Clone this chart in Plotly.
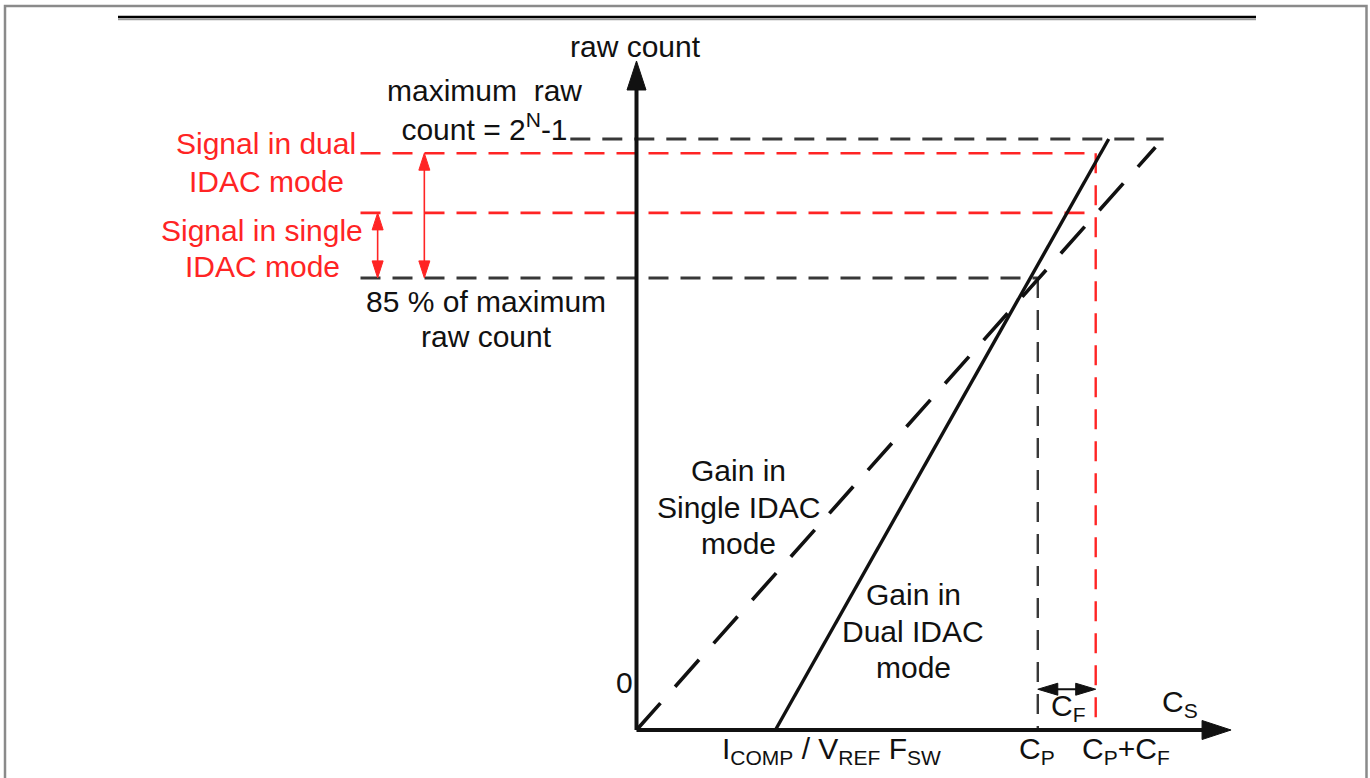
import plotly.graph_objects as go

# ---------------- data (conceptual diagram units: max raw count line = 1.0) -------------
# raw-count levels
y_max = 1.0          # maximum raw count = 2^N - 1
y_dual = 0.976       # signal level reached in dual IDAC mode
y_single = 0.875     # signal level reached in single IDAC mode
y_85 = 0.765         # 85 % of maximum raw count
# C_S positions
x_icomp = 0.235      # I_COMP / (V_REF F_SW)
x_cp = 0.679         # C_P
x_cpcf = 0.777       # C_P + C_F
# gain lines
single_gain_x = [0.0, 0.878]
single_gain_y = [0.0, 0.986]
dual_gain_x = [x_icomp, 0.799]
dual_gain_y = [0.0, 1.0]
# axis extents
x_axis_end = 1.006
y_axis_end = 1.132
# guide-line left ends
x_guide_left = -0.467
x_max_left = -0.112
x_max_right = 0.892
# signal double-arrow x positions
x_arrow_single = -0.438
x_arrow_dual = -0.359
y_cf_arrow = 0.069

# ---------------- layout helpers (pixel geometry of the canvas) -------------
W, H = 1370, 778
S = 591.0            # pixels per diagram unit
OX, OY = 636.5, 730.0  # pixel position of origin
X0, X1 = -OX / S, (W - OX) / S
Y0, Y1 = (OY - H) / S, OY / S


def d(px):
    return px / S


def X(px):
    return (px - OX) / S


def Y(py):
    return (OY - py) / S


BLACK = "#111111"
DGREY = "#383838"
RED = "#ff2424"
FONT = "Liberation Sans, Arial, sans-serif"
FS = 30

fig = go.Figure()


def line(xs, ys, color, width, dash="solid"):
    fig.add_trace(go.Scatter(x=xs, y=ys, mode="lines",
                             line=dict(color=color, width=width, dash=dash),
                             hoverinfo="skip", showlegend=False))


def head(tx, ty, direction, length, half, color):
    L, Hh = d(length), d(half)
    if direction == "up":
        xs = [tx, tx - Hh, tx + Hh, tx]; ys = [ty, ty - L, ty - L, ty]
    elif direction == "down":
        xs = [tx, tx - Hh, tx + Hh, tx]; ys = [ty, ty + L, ty + L, ty]
    elif direction == "right":
        xs = [tx, tx - L, tx - L, tx]; ys = [ty, ty + Hh, ty - Hh, ty]
    else:
        xs = [tx, tx + L, tx + L, tx]; ys = [ty, ty + Hh, ty - Hh, ty]
    fig.add_trace(go.Scatter(x=xs, y=ys, mode="lines", fill="toself",
                             fillcolor=color, line=dict(color=color, width=1),
                             hoverinfo="skip", showlegend=False))


DASH = "20px,12px"

# horizontal guide lines
line([x_max_left, x_max_right], [y_max, y_max], DGREY, 3, DASH)
line([x_guide_left, x_cpcf], [y_dual, y_dual], RED, 2.6, DASH)
line([x_guide_left, x_cpcf], [y_single, y_single], RED, 2.6, DASH)
line([x_guide_left, x_cp], [y_85, y_85], DGREY, 3, DASH)
# vertical guide lines
line([x_cp, x_cp], [y_85, 0], DGREY, 2.4, DASH)
line([x_cpcf, x_cpcf], [y_dual, 0], RED, 2.4, DASH)

# gain lines
line(single_gain_x, single_gain_y, BLACK, 3.6, "36px,22px")
line(dual_gain_x, dual_gain_y, BLACK, 3.4)

# axes
line([0, 0], [0, y_axis_end - d(26)], BLACK, 4)
line([0, x_axis_end - d(26)], [0, 0], BLACK, 4)
head(0, y_axis_end, "up", 29, 9.5, BLACK)
head(x_axis_end, 0, "right", 29, 9.5, BLACK)

# red signal double arrows
for xa, ytop in [(x_arrow_single, y_single), (x_arrow_dual, y_dual)]:
    line([xa, xa], [ytop - d(10), y_85 + d(10)], RED, 1.6)
    head(xa, ytop, "up", 17, 5.5, RED)
    head(xa, y_85, "down", 17, 5.5, RED)

# C_F double arrow
line([x_cp + d(10), x_cpcf - d(10)], [y_cf_arrow, y_cf_arrow], BLACK, 2)
head(x_cp, y_cf_arrow, "left", 20, 6, BLACK)
head(x_cpcf, y_cf_arrow, "right", 20, 6, BLACK)

# ---------------- texts -------------
texts = [
    ("raw count", 635, 46, BLACK, "center"),
    ("maximum\u00a0 raw<br>count = 2<sup>N</sup>-1", 484, 110, BLACK, "center"),
    ("85 % of maximum", 486, 301, BLACK, "center"),
    ("raw count", 486, 336, BLACK, "center"),
    ("Signal in dual", 266, 143, RED, "center"),
    ("IDAC mode", 266, 181, RED, "center"),
    ("Signal in single", 262, 230, RED, "center"),
    ("IDAC mode", 262, 266, RED, "center"),
    ("0", 624, 682, BLACK, "center"),
    ("Gain in", 738, 470, BLACK, "center"),
    ("Single IDAC", 738, 507, BLACK, "center"),
    ("mode", 738, 543, BLACK, "center"),
    ("Gain in", 913, 594, BLACK, "center"),
    ("Dual IDAC", 913, 631, BLACK, "center"),
    ("mode", 913, 667, BLACK, "center"),
    ("C<sub>S</sub>", 1180, 703, BLACK, "center"),
    ("C<sub>F</sub>", 1068, 707, BLACK, "center"),
    ("I<sub>COMP</sub> / V<sub>REF</sub> F<sub>SW</sub>", 831, 750, BLACK, "center"),
    ("C<sub>P</sub>", 1037, 750, BLACK, "center"),
    ("C<sub>P</sub>+C<sub>F</sub>", 1126, 750, BLACK, "center"),
]
for t, px, py, col, anc in texts:
    fig.add_annotation(x=X(px), y=Y(py), xref="x", yref="y", text=t,
                       showarrow=False, xanchor=anc, yanchor="middle",
                       font=dict(family=FONT, size=FS, color=col))

# frame and top rule
fig.add_shape(type="rect", xref="x", yref="y", x0=X(5), x1=X(1366.5), y0=Y(800), y1=Y(6),
              line=dict(color="#8a8a8a", width=2.5), fillcolor="rgba(0,0,0,0)")
fig.add_shape(type="line", xref="x", yref="y", x0=X(118), x1=X(1256), y0=Y(19.5), y1=Y(19.5),
              line=dict(color="#9a9a9a", width=1.5))
fig.add_shape(type="line", xref="x", yref="y", x0=X(118), x1=X(1256), y0=Y(17), y1=Y(17),
              line=dict(color="#000000", width=2.5))

fig.update_layout(
    width=W, height=H,
    margin=dict(l=0, r=0, t=0, b=0, pad=0),
    paper_bgcolor="white", plot_bgcolor="white",
    showlegend=False,
    xaxis=dict(range=[X0, X1], visible=False, fixedrange=True),
    yaxis=dict(range=[Y0, Y1], visible=False, fixedrange=True),
)

fig.write_html("out.html", config={"displayModeBar": False},
               post_script="document.body.style.margin='0';document.body.style.overflow='hidden';")
